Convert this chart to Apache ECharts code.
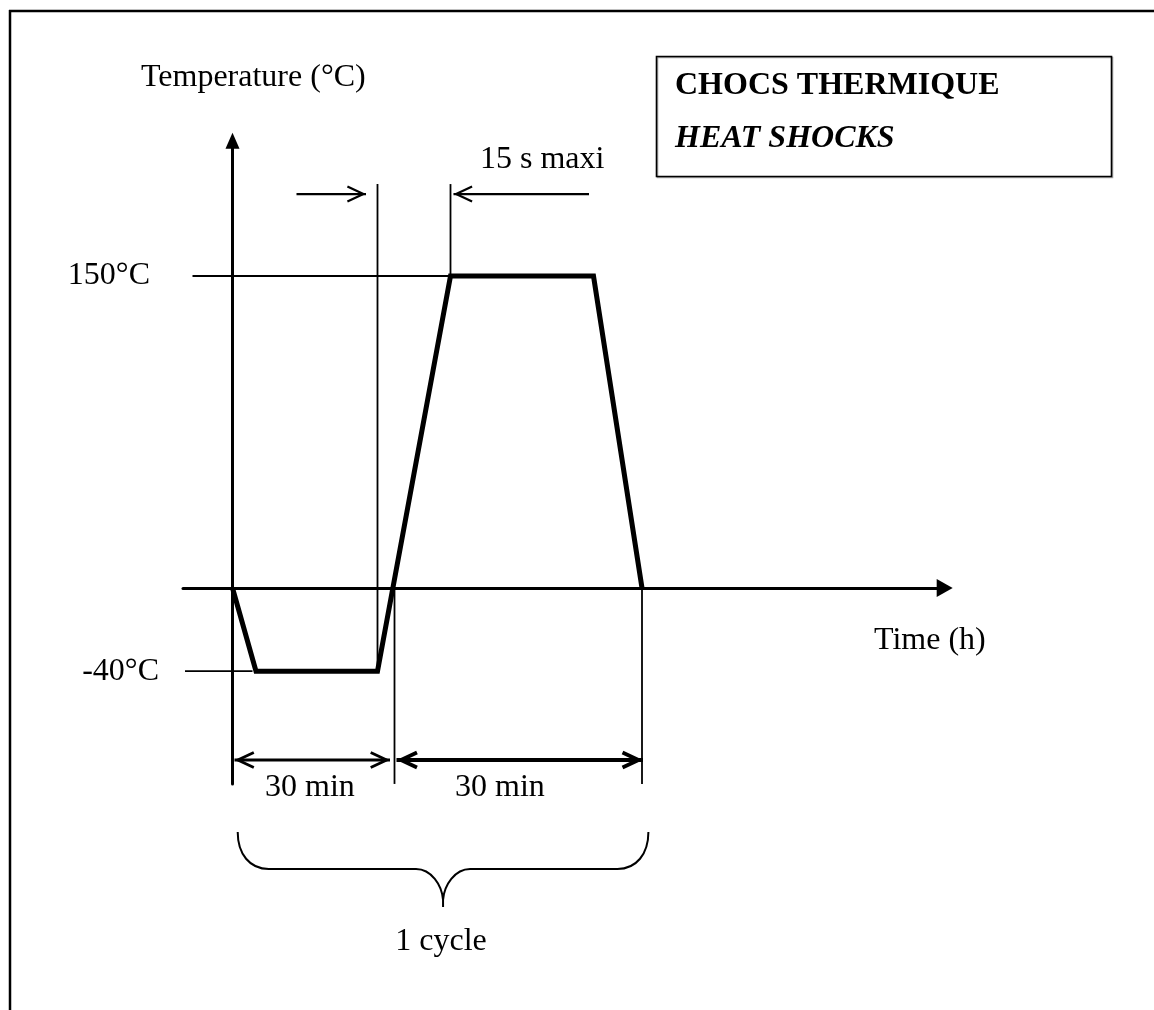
<!DOCTYPE html>
<html>
<head>
<meta charset="utf-8">
<script src="https://cdn.jsdelivr.net/npm/echarts@6/dist/echarts.min.js"></script>
<style>
html,body{margin:0;padding:0;background:#fff;}
#c{width:1154px;height:1010px;}
</style>
</head>
<body>
<div id="c"></div>
<script>
// ---------------- DATA ----------------
// x: schematic time units (diagram is not to scale), y: temperature in °C
const profileTime = [0, 4.7, 29.0, 43.6, 72.2, 81.9];
const profileTemp = [0, -40, -40, 150, 150, 0];
const tempLevels = [-40, 150];
// thin guide lines [x1, y1, x2, y2]
const guideLines = [
  [-8.0, 150, 43.6, 150],
  [-9.5, -40, 4.0, -40],
  [29.0, 194.2, 29.0, -40],
  [43.6, 194.2, 43.6, 150],
  [32.4, 0, 32.4, -94.2],
  [81.9, 0, 81.9, -94.2]
];
// transfer ("15 s maxi") arrows [tailX, tailY, tipX, tipY]
const transferArrows = [
  [12.8, 189.4, 26.7, 189.4],
  [71.3, 189.4, 44.2, 189.4]
];
// duration arrows (double headed) [x1, y1, x2, y2]
const durationArrows = [
  [0.4, -82.7, 31.5, -82.7],
  [32.8, -82.7, 82.1, -82.7]
];
const cycleSpan = [0, 81.9];
const labelsText = {
  yName: 'Temperature (°C)',
  xName: 'Time (h)',
  transfer: '15 s maxi',
  duration: '30 min',
  cycle: '1 cycle',
  title1: 'CHOCS THERMIQUE',
  title2: 'HEAT SHOCKS'
};

// ---------------- STYLE / LAYOUT ----------------
const FONT = "'Liberation Serif','Times New Roman',serif";
const FS = 32;
const MID = 0.34 * FS; // alphabetic baseline offset from middle
const durationWidths = [2.8, 3.8];

function head(tip, from, len, half, w) {
  const dx = tip[0] - from[0], dy = tip[1] - from[1];
  const d = Math.hypot(dx, dy) || 1;
  const ux = dx / d, uy = dy / d;
  const back = (w / 2) / Math.sin(Math.atan2(half, len));
  const t = [tip[0] - ux * back, tip[1] - uy * back];
  const bx = t[0] - ux * len, by = t[1] - uy * len;
  return {
    type: 'polyline',
    shape: { points: [[bx - uy * half, by + ux * half], t, [bx + uy * half, by - ux * half]] },
    style: { stroke: '#000', lineWidth: w, fill: 'none', lineJoin: 'miter', lineCap: 'butt' }
  };
}

function arrowItem(api, w, both) {
  const a = api.coord([api.value(0), api.value(1)]);
  const b = api.coord([api.value(2), api.value(3)]);
  const children = [
    { type: 'line', shape: { x1: a[0], y1: a[1], x2: b[0], y2: b[1] },
      style: { stroke: '#000', lineWidth: w } },
    head(b, a, 16, 7.5, w)
  ];
  if (both) children.push(head(a, b, 16, 7.5, w));
  return { type: 'group', children };
}

function txt(x, baseline, s, extra) {
  return {
    type: 'text', x: x, y: baseline - MID, silent: true,
    style: Object.assign({
      text: s, fill: '#000', fontFamily: FONT, fontSize: FS,
      align: 'left', verticalAlign: 'middle'
    }, extra || {})
  };
}

const chart = echarts.init(document.getElementById('c'), null, { renderer: 'canvas' });

const option = {
  animation: false,
  backgroundColor: '#fff',
  grid: { left: 183, right: 209.3, top: 140.7, bottom: 226, containLabel: false, outerBoundsMode: 'none' },
  xAxis: {
    type: 'value', min: -9.9, max: 142.44,
    axisLine: { show: true, onZero: true, symbol: ['none', 'triangle'], symbolSize: [18, 16],
      lineStyle: { color: '#000', width: 3 } },
    axisTick: { show: false }, axisLabel: { show: false }, splitLine: { show: false }
  },
  yAxis: {
    type: 'value', min: -94.23, max: 215.05,
    axisLine: { show: true, onZero: true, symbol: ['none', 'triangle'], symbolSize: [14, 16],
      lineStyle: { color: '#000', width: 3 } },
    axisTick: { show: false }, splitLine: { show: false },
    axisLabel: {
      show: true, customValues: tempLevels, margin: 24,
      color: '#000', fontFamily: FONT, fontSize: FS,
      formatter: function (v) { return v === 150 ? '{hi|' + v + '°C}' : '{lo|' + v + '°C}'; },
      rich: {
        hi: { padding: [0, 9, 0, 0], color: '#000', fontFamily: FONT, fontSize: FS },
        lo: { color: '#000', fontFamily: FONT, fontSize: FS }
      }
    }
  },
  series: [
    {
      name: 'profile', type: 'line', z: 5,
      data: profileTime.map((t, i) => [t, profileTemp[i]]),
      showSymbol: false, symbol: 'none', clip: false,
      lineStyle: { color: '#000', width: 5, join: 'miter', cap: 'butt' }
    },
    {
      name: 'guides', type: 'custom', clip: false, z: 3,
      encode: { x: [0, 2], y: [1, 3] },
      data: guideLines,
      renderItem: function (params, api) {
        const a = api.coord([api.value(0), api.value(1)]);
        const b = api.coord([api.value(2), api.value(3)]);
        return { type: 'line', shape: { x1: a[0], y1: a[1], x2: b[0], y2: b[1] },
          style: { stroke: '#000', lineWidth: 1.8 } };
      }
    },
    {
      name: 'transfer', type: 'custom', clip: false, z: 4,
      encode: { x: [0, 2], y: [1, 3] },
      data: transferArrows,
      renderItem: function (params, api) { return arrowItem(api, 2.2, false); }
    },
    {
      name: 'duration', type: 'custom', clip: false, z: 4,
      encode: { x: [0, 2], y: [1, 3] },
      data: durationArrows,
      renderItem: function (params, api) { return arrowItem(api, durationWidths[params.dataIndex], true); }
    },
    {
      name: 'cycle', type: 'custom', clip: false, z: 4,
      encode: { x: [0, 1] },
      data: [[cycleSpan[0], cycleSpan[1], 0]],
      renderItem: function (params, api) {
        const xl = api.coord([api.value(0), 0])[0] + 5.2;
        const xr = api.coord([api.value(1), 0])[0] + 6.4;
        const xm = (xl + xr) / 2;
        const top = 832, mid = 869, tip = 907;
        const d = [
          'M', xl, top,
          'C', xl, top + 22, xl + 12, mid, xl + 31, mid,
          'L', xm - 27, mid,
          'C', xm - 12, mid, xm - 1, mid + 16, xm, tip - 7,
          'L', xm, tip,
          'M', xm, tip - 7,
          'C', xm + 1, mid + 16, xm + 12, mid, xm + 27, mid,
          'L', xr - 31, mid,
          'C', xr - 12, mid, xr, top + 22, xr, top
        ].join(' ');
        return { type: 'path', shape: { pathData: d },
          style: { stroke: '#000', lineWidth: 2, fill: 'none' } };
      }
    }
  ],
  graphic: [
    { type: 'line', silent: true, shape: { x1: 9, y1: 11, x2: 1154, y2: 11 }, style: { stroke: '#000', lineWidth: 2.5 } },
    { type: 'line', silent: true, shape: { x1: 10, y1: 10, x2: 10, y2: 1010 }, style: { stroke: '#000', lineWidth: 2.5 } },
    { type: 'rect', silent: true, shape: { x: 656.5, y: 56.5, width: 455, height: 120 },
      style: { fill: 'none', stroke: '#000', lineWidth: 1.6, shadowColor: 'rgba(0,0,0,0.35)', shadowOffsetX: 1, shadowOffsetY: 1, shadowBlur: 0 } },
    txt(675, 96.7, labelsText.title1, { fontWeight: 'bold' }),
    txt(675, 150, labelsText.title2, { fontWeight: 'bold', fontStyle: 'italic' }),
    txt(141, 88.3, labelsText.yName),
    txt(480, 170, labelsText.transfer),
    txt(874, 651.7, labelsText.xName),
    txt(265, 798, labelsText.duration),
    txt(455, 798, labelsText.duration),
    txt(441, 952, labelsText.cycle, { align: 'center' })
  ]
};

chart.setOption(option);
</script>
</body>
</html>
